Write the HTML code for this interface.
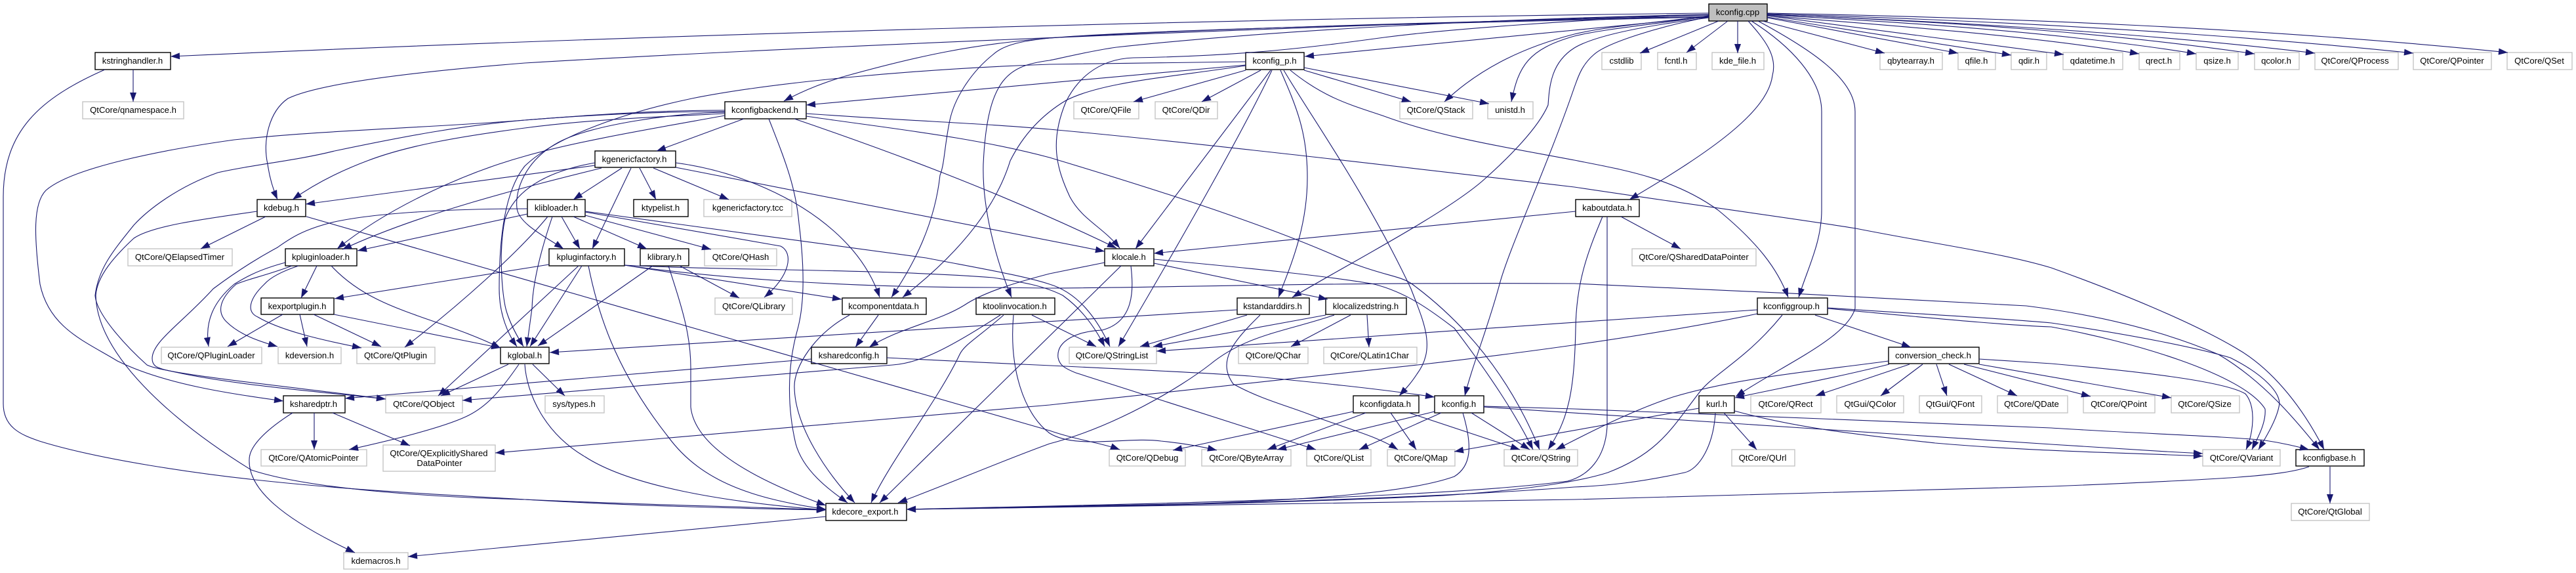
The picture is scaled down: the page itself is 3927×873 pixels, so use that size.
<!DOCTYPE html>
<html><head><meta charset="utf-8"><title>kconfig.cpp include graph</title>
<style>
html,body{margin:0;padding:0;background:#fff}
svg{display:block}
text{font-family:"Liberation Sans",Arial,sans-serif;font-size:13.1px;text-anchor:middle;fill:#000}
.b rect{fill:#fff;stroke:#000;stroke-width:1.4}
.g rect{fill:#fff;stroke:#c4c4c4;stroke-width:1.4}
.e path{fill:none;stroke:#191970;stroke-width:1.1;marker-end:url(#a)}
</style></head><body>
<svg width="3927" height="873" viewBox="0 0 3927 873" xmlns="http://www.w3.org/2000/svg">
<defs><marker id="a" markerUnits="userSpaceOnUse" markerWidth="14" markerHeight="10" refX="14" refY="5" orient="auto" overflow="visible"><path d="M0,0 L14,5 L0,10 Z" fill="#191970"/></marker></defs>

<g class="g">
<rect x="126" y="155" width="154" height="26"/><text x="203" y="172">QtCore/qnamespace.h</text>
<rect x="195" y="379" width="159" height="26"/><text x="274" y="396">QtCore/QElapsedTimer</text>
<rect x="246" y="529" width="153" height="25"/><text x="322" y="546">QtCore/QPluginLoader</text>
<rect x="424" y="529" width="96" height="25"/><text x="472" y="546">kdeversion.h</text>
<rect x="544" y="529" width="119" height="25"/><text x="603" y="546">QtCore/QtPlugin</text>
<rect x="588" y="603" width="117" height="26"/><text x="646" y="620">QtCore/QObject</text>
<rect x="398" y="685" width="161" height="25"/><text x="478" y="702">QtCore/QAtomicPointer</text>
<rect x="584" y="678" width="171" height="40"/><text x="669" y="695">QtCore/QExplicitlyShared</text><text x="670" y="710">DataPointer</text>
<rect x="524" y="842" width="98" height="25"/><text x="573" y="859">kdemacros.h</text>
<rect x="1073" y="304" width="134" height="26"/><text x="1140" y="321">kgenericfactory.tcc</text>
<rect x="1074" y="379" width="110" height="26"/><text x="1129" y="396">QtCore/QHash</text>
<rect x="1090" y="454" width="118" height="25"/><text x="1149" y="471">QtCore/QLibrary</text>
<rect x="831" y="603" width="90" height="26"/><text x="875" y="620">sys/types.h</text>
<rect x="1637" y="155" width="99" height="26"/><text x="1686" y="172">QtCore/QFile</text>
<rect x="1761" y="155" width="95" height="26"/><text x="1808" y="172">QtCore/QDir</text>
<rect x="2134" y="155" width="111" height="26"/><text x="2189" y="172">QtCore/QStack</text>
<rect x="2268" y="155" width="69" height="26"/><text x="2302" y="172">unistd.h</text>
<rect x="1630" y="529" width="133" height="25"/><text x="1695" y="546">QtCore/QStringList</text>
<rect x="1888" y="529" width="106" height="25"/><text x="1941" y="546">QtCore/QChar</text>
<rect x="2018" y="529" width="142" height="25"/><text x="2088" y="546">QtCore/QLatin1Char</text>
<rect x="1691" y="685" width="116" height="25"/><text x="1749" y="702">QtCore/QDebug</text>
<rect x="1832" y="685" width="136" height="25"/><text x="1900" y="702">QtCore/QByteArray</text>
<rect x="1992" y="685" width="98" height="25"/><text x="2041" y="702">QtCore/QList</text>
<rect x="2115" y="685" width="103" height="25"/><text x="2166" y="702">QtCore/QMap</text>
<rect x="2293" y="685" width="112" height="25"/><text x="2349" y="702">QtCore/QString</text>
<rect x="2442" y="80" width="60" height="26"/><text x="2472" y="97">cstdlib</text>
<rect x="2527" y="80" width="59" height="26"/><text x="2555" y="97">fcntl.h</text>
<rect x="2610" y="80" width="79" height="26"/><text x="2649" y="97">kde_file.h</text>
<rect x="2866" y="80" width="95" height="26"/><text x="2913" y="97">qbytearray.h</text>
<rect x="2985" y="80" width="57" height="26"/><text x="3013" y="97">qfile.h</text>
<rect x="3066" y="80" width="54" height="26"/><text x="3093" y="97">qdir.h</text>
<rect x="3145" y="80" width="91" height="26"/><text x="3190" y="97">qdatetime.h</text>
<rect x="3261" y="80" width="62" height="26"/><text x="3291" y="97">qrect.h</text>
<rect x="3348" y="80" width="64" height="26"/><text x="3380" y="97">qsize.h</text>
<rect x="3437" y="80" width="68" height="26"/><text x="3470" y="97">qcolor.h</text>
<rect x="3529" y="80" width="127" height="26"/><text x="3590" y="97">QtCore/QProcess</text>
<rect x="3679" y="80" width="119" height="26"/><text x="3738" y="97">QtCore/QPointer</text>
<rect x="3822" y="80" width="99" height="26"/><text x="3871" y="97">QtCore/QSet</text>
<rect x="2488" y="379" width="189" height="26"/><text x="2582" y="396">QtCore/QSharedDataPointer</text>
<rect x="2669" y="603" width="107" height="26"/><text x="2722" y="620">QtCore/QRect</text>
<rect x="2800" y="603" width="102" height="26"/><text x="2851" y="620">QtGui/QColor</text>
<rect x="2926" y="603" width="95" height="26"/><text x="2973" y="620">QtGui/QFont</text>
<rect x="3045" y="603" width="107" height="26"/><text x="3097" y="620">QtCore/QDate</text>
<rect x="3176" y="603" width="109" height="26"/><text x="3230" y="620">QtCore/QPoint</text>
<rect x="3310" y="603" width="104" height="26"/><text x="3361" y="620">QtCore/QSize</text>
<rect x="2640" y="685" width="96" height="25"/><text x="2687" y="702">QtCore/QUrl</text>
<rect x="3358" y="685" width="118" height="25"/><text x="3417" y="702">QtCore/QVariant</text>
<rect x="3493" y="767" width="119" height="26"/><text x="3552" y="784">QtCore/QtGlobal</text>
</g>

<g class="b">
<rect x="2605" y="6" width="89" height="26" style="fill:#bfbfbf"/><text x="2649" y="23">kconfig.cpp</text>
<rect x="145" y="80" width="115" height="26"/><text x="202" y="97">kstringhandler.h</text>
<rect x="392" y="304" width="74" height="26"/><text x="429" y="321">kdebug.h</text>
<rect x="435" y="379" width="109" height="26"/><text x="489" y="396">kpluginloader.h</text>
<rect x="398" y="454" width="111" height="25"/><text x="453" y="471">kexportplugin.h</text>
<rect x="763" y="529" width="74" height="25"/><text x="800" y="546">kglobal.h</text>
<rect x="432" y="603" width="94" height="26"/><text x="478" y="620">ksharedptr.h</text>
<rect x="1105" y="155" width="124" height="26"/><text x="1166" y="172">kconfigbackend.h</text>
<rect x="907" y="230" width="123" height="25"/><text x="967" y="247">kgenericfactory.h</text>
<rect x="804" y="304" width="88" height="26"/><text x="848" y="321">klibloader.h</text>
<rect x="966" y="304" width="83" height="26"/><text x="1007" y="321">ktypelist.h</text>
<rect x="837" y="379" width="115" height="26"/><text x="894" y="396">kpluginfactory.h</text>
<rect x="976" y="379" width="74" height="26"/><text x="1013" y="396">klibrary.h</text>
<rect x="1284" y="454" width="128" height="25"/><text x="1347" y="471">kcomponentdata.h</text>
<rect x="1488" y="454" width="120" height="25"/><text x="1547" y="471">ktoolinvocation.h</text>
<rect x="1237" y="529" width="115" height="25"/><text x="1294" y="546">ksharedconfig.h</text>
<rect x="1259" y="767" width="123" height="26"/><text x="1319" y="784">kdecore_export.h</text>
<rect x="1899" y="80" width="89" height="26"/><text x="1943" y="97">kconfig_p.h</text>
<rect x="1684" y="379" width="75" height="26"/><text x="1721" y="396">klocale.h</text>
<rect x="1886" y="454" width="110" height="25"/><text x="1940" y="471">kstandarddirs.h</text>
<rect x="2021" y="454" width="123" height="25"/><text x="2082" y="471">klocalizedstring.h</text>
<rect x="2063" y="603" width="100" height="26"/><text x="2112" y="620">kconfigdata.h</text>
<rect x="2187" y="603" width="75" height="26"/><text x="2224" y="620">kconfig.h</text>
<rect x="2402" y="304" width="97" height="26"/><text x="2450" y="321">kaboutdata.h</text>
<rect x="2679" y="454" width="107" height="25"/><text x="2731" y="471">kconfiggroup.h</text>
<rect x="2879" y="529" width="138" height="25"/><text x="2947" y="546">conversion_check.h</text>
<rect x="2590" y="603" width="54" height="26"/><text x="2617" y="620">kurl.h</text>
<rect x="3500" y="685" width="104" height="25"/><text x="3551" y="702">kconfigbase.h</text>
</g>

<g class="e">
<!-- kconfig.cpp -->
<path d="M2605,20 C1900,28 1000,52 260,86"/>
<path d="M2605,23 C2100,35 1200,72 800,96 C600,112 480,130 439,150 C410,170 400,215 408,250 C411,272 417,290 423,304"/>
<path d="M2605,25 C2200,33 1800,45 1600,58 C1480,68 1400,85 1285,117 C1260,125 1230,135 1195,154"/>
<path d="M2605,26 L1989,86"/>
<path d="M2605,24 C2520,35 2450,40 2400,52 C2330,70 2260,100 2202,155"/>
<path d="M2605,25 C2520,37 2440,45 2400,55 C2330,75 2315,100 2304,155"/>
<path d="M2605,22 C2400,30 2200,45 2110,57 C2000,72 1900,85 1728,88 C1670,90 1640,125 1625,155 C1600,215 1610,255 1631,300 C1650,335 1680,345 1707,378"/>
<path d="M2605,26 C2200,35 1750,45 1600,58 C1560,62 1530,68 1514,83 C1480,110 1455,150 1448,183 C1440,220 1440,250 1433,267 C1425,340 1395,400 1359,453"/>
<path d="M2605,22 C2300,28 1950,45 1702,72 C1660,78 1620,88 1600,92 C1540,100 1505,115 1499,250 C1497,320 1520,400 1542,453"/>
<path d="M2605,27 C2500,40 2430,55 2400,73 C2365,95 2362,130 2360,160 C2345,195 2300,240 2263,273 C2205,325 2050,405 1970,453"/>
<path d="M2605,26 C2530,40 2450,65 2430,83 C2410,100 2405,120 2400,133 C2360,250 2300,380 2286,433 C2268,500 2245,555 2233,603"/>
<path d="M2665,32 C2690,60 2710,85 2702,115 C2695,170 2610,230 2484,304"/>
<path d="M2670,32 C2730,70 2777,120 2777,170 L2777,320 C2777,370 2755,410 2742,453"/>
<path d="M2680,32 C2760,75 2828,120 2828,170 L2828,470 C2815,515 2720,555 2646,604"/>
<path d="M2620,32 L2500,81"/>
<path d="M2634,32 L2571,80"/>
<path d="M2649,32 L2649,81"/>
<path d="M2687,32 L2873,81"/>
<path d="M2694,27 L2985,81"/>
<path d="M2694,26 L3066,84"/>
<path d="M2694,24 L3146,83"/>
<path d="M2694,24 C2900,40 3100,55 3261,82"/>
<path d="M2694,23 C2900,33 3150,50 3348,82"/>
<path d="M2694,22 C2950,32 3200,48 3437,82"/>
<path d="M2694,22 C2950,32 3250,48 3529,81"/>
<path d="M2694,21 C3000,30 3350,47 3679,81"/>
<path d="M2694,20 C3050,27 3450,42 3823,80"/>
<!-- kstringhandler -->
<path d="M203,106 L203,155"/>
<path d="M160,106 C60,150 5,200 5,300 L5,615 C5,650 30,662 60,672 C150,700 300,722 408,733 C550,748 700,755 800,761 C950,770 1100,774 1259,777"/>
<!-- kconfigbackend -->
<path d="M1134,181 L1001,230"/>
<path d="M1172,181 C1195,240 1213,283 1218,340 C1228,420 1225,470 1215,505 C1200,560 1200,620 1213,676 C1225,720 1270,750 1292,766"/>
<path d="M1211,181 C1340,225 1520,290 1702,378"/>
<path d="M1229,177 C1350,195 1480,208 1600,240 C1800,300 1950,350 2059,400 C2110,420 2135,420 2153,433 C2230,490 2300,570 2347,685"/>
<path d="M1229,173 C1400,185 1500,188 1600,197 C1800,215 2100,250 2400,285 C2600,315 2750,335 2829,348 C2950,372 3050,385 3127,408 C3230,445 3340,490 3408,530 C3470,565 3515,630 3543,685"/>
<path d="M1105,173 C1000,178 900,182 800,195 C700,208 620,222 560,245 C520,260 480,280 446,304"/>
<path d="M1105,176 C1000,195 880,215 800,238 C720,260 600,310 514,379"/>
<path d="M1105,170 C1000,170 900,175 800,183 C700,192 620,207 510,230 C450,245 390,250 332,263 C270,285 225,320 204,343 C170,385 150,410 145,450 C147,480 195,530 224,556 C250,570 450,590 588,608"/>
<path d="M1105,168 C1000,168 900,175 800,183 C650,195 500,198 357,213 C250,228 110,255 70,290 C50,310 52,360 61,433 C75,500 130,520 179,550 C250,585 350,600 432,611"/>
<path d="M1105,171 C1030,172 900,190 851,217 C800,245 785,290 788,317 C790,340 830,360 859,379"/>
<!-- kgenericfactory -->
<path d="M948,256 L874,304"/>
<path d="M962,256 L903,379"/>
<path d="M975,256 L1000,304"/>
<path d="M996,256 L1111,304"/>
<path d="M1030,248 C1120,260 1220,300 1285,365 C1310,390 1330,420 1341,453"/>
<path d="M1030,255 L1684,383"/>
<path d="M907,252 L466,311"/>
<path d="M917,256 C800,285 640,325 522,380"/>
<path d="M907,248 C850,258 790,280 770,333 C760,380 765,440 770,466 C775,490 790,515 798,528"/>
<!-- klibloader -->
<path d="M856,330 L884,379"/>
<path d="M874,330 L986,379"/>
<path d="M892,328 L1084,380"/>
<path d="M842,330 C825,380 812,430 811,470 L803,528"/>
<path d="M835,330 C790,385 700,465 617,529"/>
<path d="M892,323 L1190,375 C1210,385 1205,420 1165,453"/>
<path d="M892,322 C1050,345 1250,370 1412,393 C1500,410 1560,420 1600,433 C1640,445 1670,480 1692,528"/>
<path d="M804,326 L545,382"/>
<path d="M804,318 C680,318 570,325 510,338 C460,350 440,365 423,377 C380,400 345,425 325,440 C280,490 232,520 232,546 C232,558 240,560 250,563 C340,585 470,595 588,608"/>
<!-- klibrary -->
<path d="M995,405 L820,527"/>
<path d="M1036,405 L1127,454"/>
<path d="M1019,405 C1040,470 1053,510 1053,560 L1053,620 C1058,670 1120,720 1259,770"/>
<!-- kpluginfactory -->
<path d="M887,405 L808,528"/>
<path d="M882,405 L668,603"/>
<path d="M897,405 C910,470 935,560 1019,666 C1070,735 1150,760 1259,776"/>
<path d="M952,404 L1283,456"/>
<path d="M952,404 C1100,412 1350,410 1514,423 C1560,430 1590,435 1620,450 C1655,475 1675,510 1684,528"/>
<path d="M952,404 C1100,425 1300,438 1514,438 L1600,439 C1800,438 2000,430 2400,432 C2600,440 2900,455 3089,466 C3200,480 3300,505 3382,540 C3450,580 3500,640 3536,685"/>
<path d="M837,403 L510,455"/>
<!-- kpluginloader -->
<path d="M435,400 C390,412 370,425 357,433 C325,460 312,490 318,528"/>
<path d="M445,405 C405,420 378,425 360,433 C335,455 330,475 345,490 C365,510 395,520 423,528"/>
<path d="M455,405 C425,415 410,425 403,433 C380,455 375,475 393,483 C430,505 500,520 551,530"/>
<path d="M483,405 L459,454"/>
<path d="M505,405 C570,475 660,480 763,530"/>
<!-- kexportplugin -->
<path d="M431,479 L347,528"/>
<path d="M457,479 L468,528"/>
<path d="M478,479 L581,528"/>
<path d="M509,479 L763,530"/>
<!-- kdebug -->
<path d="M392,322 C300,335 230,345 204,363 C175,390 148,420 146,450 C148,540 260,640 383,716 C470,745 650,757 800,761 C1000,770 1150,772 1259,777"/>
<path d="M405,330 L306,379"/>
<path d="M467,330 L1600,656 C1640,670 1680,675 1707,685"/>
<!-- kglobal -->
<path d="M775,555 L672,603"/>
<path d="M791,555 C760,600 740,620 714,633 C680,650 600,670 532,685"/>
<path d="M812,555 L861,603"/>
<path d="M800,555 C803,600 830,660 892,696 C960,740 1100,765 1259,777"/>
<!-- ksharedptr -->
<path d="M446,629 C405,655 380,680 380,700 C378,745 430,790 541,842"/>
<path d="M479,629 L479,685"/>
<path d="M507,629 L625,679"/>
<!-- ksharedconfig -->
<path d="M1237,547 L526,607"/>
<path d="M1352,545 C1500,553 1800,565 1906,573 C2000,582 2100,592 2187,605"/>
<!-- ktoolinvocation -->
<path d="M1525,480 C1440,535 1400,553 1361,556 L705,610"/>
<path d="M1530,480 C1490,515 1470,525 1463,540 C1430,610 1355,705 1328,766"/>
<path d="M1545,480 C1538,560 1560,630 1600,660 C1640,685 1720,665 1770,672 C1800,675 1830,680 1855,686"/>
<path d="M1573,480 L1671,528"/>
<!-- kcomponentdata -->
<path d="M1339,480 L1304,529"/>
<path d="M1295,480 C1240,510 1210,560 1211,590 C1212,650 1260,720 1303,766"/>
<!-- klocale -->
<path d="M1684,400 L1600,417 C1550,430 1500,445 1470,465 C1430,490 1370,500 1325,529"/>
<path d="M1709,405 L1341,766"/>
<path d="M1724,405 C1728,440 1730,490 1680,503 C1640,505 1610,520 1613,545 C1615,555 1620,560 1640,568 L2006,685"/>
<path d="M1759,401 L2024,456"/>
<path d="M1759,395 C1900,408 2020,420 2095,433 C2150,447 2190,480 2217,500 C2270,570 2310,630 2337,685"/>
<!-- kstandarddirs -->
<path d="M1901,480 L1738,528"/>
<path d="M1886,472 L838,537"/>
<path d="M1921,480 C1880,520 1855,550 1880,585 C1925,610 1970,620 2008,636 C2060,655 2100,665 2131,685"/>
<!-- klocalizedstring -->
<path d="M2021,480 L1758,528"/>
<path d="M2034,480 C1960,505 1900,510 1845,555 C1800,590 1700,650 1600,676 C1520,705 1440,740 1369,766"/>
<path d="M2059,480 L1968,528"/>
<path d="M2084,480 L2087,529"/>
<!-- kaboutdata -->
<path d="M2402,322 L1759,386"/>
<path d="M2471,330 L2562,379"/>
<path d="M2450,330 L2450,650 C2447,700 2420,725 2390,733 C2300,745 2100,760 1600,771 L1382,776"/>
<path d="M2443,330 C2420,385 2403,430 2402,500 C2400,600 2390,640 2360,685"/>
<!-- kconfiggroup -->
<path d="M2767,480 L2913,529"/>
<path d="M2679,472 L1763,535"/>
<path d="M2679,478 C2500,515 2300,540 2161,556 L1600,617 L755,690"/>
<path d="M2717,480 C2660,550 2610,570 2589,600 C2550,650 2530,690 2451,720 C2420,730 2350,745 2200,755 C2000,765 1700,772 1382,776"/>
<path d="M2786,469 C2950,480 3050,485 3127,492 C3250,510 3350,530 3400,545 C3450,570 3480,600 3474,620 C3470,640 3455,665 3443,685"/>
<path d="M2786,470 C2950,485 3050,495 3127,498 C3250,520 3420,570 3453,623 C3455,645 3440,670 3433,685"/>
<!-- conversion_check -->
<path d="M2879,550 C2770,565 2650,575 2550,605 C2490,625 2430,655 2372,685"/>
<path d="M2880,555 C2800,575 2720,590 2645,606"/>
<path d="M2911,555 L2768,603"/>
<path d="M2931,555 L2867,603"/>
<path d="M2952,555 L2968,603"/>
<path d="M2971,555 L3075,603"/>
<path d="M2994,555 L3187,604"/>
<path d="M3017,555 L3310,606"/>
<path d="M3017,547 L3127,554 C3250,565 3390,580 3423,600 C3440,620 3435,660 3424,685"/>
<!-- kurl -->
<path d="M2590,622 L2217,688"/>
<path d="M2628,629 L2678,685"/>
<path d="M2615,629 C2612,680 2590,715 2568,720 C2500,735 2450,740 2400,742 C2100,765 1700,770 1382,776"/>
<path d="M2644,626 C2750,655 2860,665 2950,675 C3100,688 3250,690 3358,695"/>
<!-- kconfig.h -->
<path d="M2187,627 L1947,685"/>
<path d="M2197,629 L2072,685"/>
<path d="M2243,629 L2332,685"/>
<path d="M2230,629 C2245,680 2243,710 2217,726 C2150,750 2000,762 1800,768 L1382,776"/>
<path d="M2262,619 L2400,623 L3127,652 C3250,660 3400,665 3453,671 C3480,675 3500,680 3520,685"/>
<path d="M2262,620 L3127,677 C3200,682 3280,687 3358,691"/>
<!-- kconfigdata -->
<path d="M2063,627 L1788,686"/>
<path d="M2082,629 L1932,685"/>
<path d="M2120,629 L2159,685"/>
<path d="M2148,629 L2317,685"/>
<!-- kconfig_p -->
<path d="M1899,107 L1728,155"/>
<path d="M1922,107 L1832,155"/>
<path d="M1937,107 L1731,379"/>
<path d="M1939,107 C1900,190 1810,350 1705,528"/>
<path d="M1952,107 C1975,160 1993,200 1993,270 C1993,350 1965,410 1949,453"/>
<path d="M1957,107 C2000,180 2080,290 2151,440 C2170,490 2190,530 2160,570 C2150,585 2145,590 2133,603"/>
<path d="M1967,107 C2020,150 2060,160 2110,177 C2200,210 2300,225 2400,244 C2470,258 2550,270 2619,320 C2680,370 2710,410 2726,453"/>
<path d="M1988,107 L2151,155"/>
<path d="M1988,103 L2270,158"/>
<path d="M1899,99 L1229,160"/>
<path d="M1899,94 L1600,98 C1400,105 1180,125 1055,150 C960,170 850,205 800,253 C770,290 761,360 761,440 C761,480 775,510 788,528"/>
<path d="M1899,100 C1780,118 1680,125 1625,153 C1580,180 1555,215 1540,245 C1520,310 1470,380 1376,453"/>
<!-- kdecore_export -->
<path d="M1259,787 L622,848"/>
<!-- kconfigbase -->
<path d="M3520,711 C3480,725 3400,730 3127,741 L2400,761 L1600,773 L1382,776"/>
<path d="M3552,711 L3552,767"/>
</g>
</svg>
</body></html>
